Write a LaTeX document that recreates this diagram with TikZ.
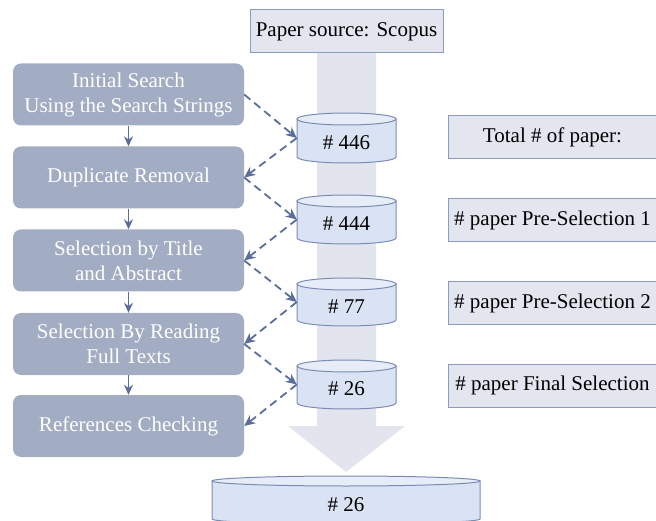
\documentclass[tikz,border=0pt]{standalone}
\usepackage{fontspec}
\setmainfont{Liberation Serif}
\newfontfamily\tnrfont{Liberation Serif}
\usetikzlibrary{arrows.meta}
\definecolor{boxfill}{HTML}{A2ACC2}
\definecolor{arrowc}{HTML}{5B6E9B}
\definecolor{cylfill}{HTML}{DAE3F3}
\definecolor{cyltop}{HTML}{E6ECF8}
\definecolor{cylline}{HTML}{7A8CB4}
\definecolor{lightfill}{HTML}{E3E6EE}
\definecolor{lightline}{HTML}{8C9CC0}
\definecolor{bigarrow}{HTML}{E2E5EE}
\newcommand{\dbcyl}[7]{% name, cx, top, bottom, half width, ry, text
  \path[cylbody] (#2-#5,-#3-#6) -- (#2-#5,-#4+#6) arc[start angle=180,end angle=360,x radius=#5,y radius=#6] -- (#2+#5,-#3-#6) -- cycle;
  \path[cylcap] (#2,-#3-#6) ellipse[x radius=#5, y radius=#6];
  \node[minimum width=2*#5, minimum height=#4-#3, label={[yshift=-4.5pt]center:#7}] (#1) at (#2,{-(#3+#4)/2}) {};
}
\begin{document}
\begin{tikzpicture}[x=1pt,y=1pt,
 every node/.style={font=\tnrfont\fontsize{21}{25}\selectfont, inner sep=0pt},
 stage/.style={rectangle, rounded corners=8pt, fill=boxfill, text=white, align=center, minimum width=231pt, minimum height=62pt},
 infobox/.style={rectangle, fill=lightfill, draw=lightline, line width=1pt, minimum height=43pt},
 flow/.style={draw=arrowc, line width=1.8pt, -{Stealth[length=10pt,width=9pt]}},
 dashflow/.style={draw=arrowc, line width=1.8pt, dash pattern=on 8pt off 5pt, -{Stealth[length=11pt,width=10pt]}},
 cylbody/.style={fill=cylfill, draw=cylline, line width=1pt},
 cylcap/.style={fill=cyltop, draw=cylline, line width=1pt},
]
\useasboundingbox (0,0) rectangle (656,-521);
\clip (0,0) rectangle (656,-521);

% big background arrow
\fill[bigarrow] (317,-53) -- (376,-53) -- (376,-426) -- (405,-426) -- (346,-472) -- (288,-426) -- (317,-426) -- cycle;

% source
\node[infobox, minimum width=193pt] (src) at (346.5,-31.5) {Paper source: Scopus};

% stages
\node[stage] (b1) at (128.5,-94.5) {Initial Search\\Using the Search Strings};
\node[stage] (b2) at (128.5,-177.5) {Duplicate Removal};
\node[stage] (b3) at (128.5,-260.5) {Selection by Title\\and Abstract};
\node[stage] (b4) at (128.5,-344) {Selection By Reading\\Full Texts};
\node[stage] (b5) at (128.5,-426) {References Checking};

% cylinders
\dbcyl{c1}{346.5}{113}{163}{49.5}{6}{\# 446}
\dbcyl{c2}{346.5}{195}{244}{49.5}{6}{\# 444}
\dbcyl{c3}{346.5}{278}{326}{49.5}{6}{\# 77}
\dbcyl{c4}{346.5}{360}{409}{49.5}{6}{\# 26}
\dbcyl{cf}{346}{476}{524}{134}{5}{\# 26}

% right info boxes
\node[infobox, minimum width=209pt] (r1) at (552.5,-137.5) {Total \# of paper:};
\node[infobox, minimum width=209pt] (r2) at (552.5,-220.5) {\# paper Pre-Selection 1};
\node[infobox, minimum width=209pt] (r3) at (552.5,-303) {\# paper Pre-Selection 2};
\node[infobox, minimum width=209pt] (r4) at (552.5,-385.5) {\# paper Final Selection};

% solid arrows
\draw[flow] (b1.south) -- (b2.north);
\draw[flow] (b2.south) -- (b3.north);
\draw[flow] (b3.south) -- (b4.north);
\draw[flow] (b4.south) -- (b5.north);

% dashed arrows
\draw[dashflow] (b1.east) -- (c1.west);
\draw[dashflow] (c1.west) -- (b2.east);
\draw[dashflow] (b2.east) -- (c2.west);
\draw[dashflow] (c2.west) -- (b3.east);
\draw[dashflow] (b3.east) -- (c3.west);
\draw[dashflow] (c3.west) -- (b4.east);
\draw[dashflow] (b4.east) -- (c4.west);
\draw[dashflow] (c4.west) -- (b5.east);
\end{tikzpicture}
\end{document}
